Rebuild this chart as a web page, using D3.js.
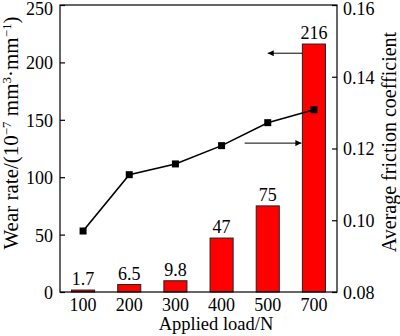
<!DOCTYPE html>
<html>
<head>
<meta charset="utf-8">
<script src="https://cdn.jsdelivr.net/npm/d3@7"></script>
<style>
  html, body { margin: 0; padding: 0; background: #fff; }
  text { font-family: "Liberation Serif", "Times New Roman", serif; fill: #000; }
</style>
</head>
<body>
<svg id="chart" width="400" height="336"></svg>
<script>
// Applied load categories (N)
const loads = ["100", "200", "300", "400", "500", "700"];
// Wear rate, 10^-7 mm^3·mm^-1
const wearRate = [1.7, 6.5, 9.8, 47, 75, 216];
const wearLabels = ["1.7", "6.5", "9.8", "47", "75", "216"];
// Average friction coefficient
const friction = [0.097, 0.1127, 0.1157, 0.1208, 0.1272, 0.1308];
const leftTicks = [0, 50, 100, 150, 200, 250];
const rightTicks = [0.08, 0.10, 0.12, 0.14, 0.16];

const svg = d3.select("#chart");
const m = { left: 60, right: 63, top: 5, bottom: 44 };
const W = 400, H = 336;
const x0 = m.left, x1 = W - m.right, y0 = H - m.bottom, y1 = m.top;

const x = d3.scaleBand().domain(loads).range([x0, x1]).paddingInner(0.5).paddingOuter(0.25);
const yL = d3.scaleLinear().domain([0, 250]).range([y0, y1]);
const yR = d3.scaleLinear().domain([0.08, 0.16]).range([y0, y1]);

const tickFs = 18, valFs = 18;

// bars
svg.append("g").selectAll("rect").data(wearRate).join("rect")
  .attr("x", (d, i) => x(loads[i]))
  .attr("y", d => yL(d))
  .attr("width", x.bandwidth())
  .attr("height", d => y0 - yL(d))
  .attr("fill", "#ff0000")
  .attr("stroke", "#222")
  .attr("stroke-width", 1);

// bar value labels
svg.append("g").selectAll("text").data(wearRate).join("text")
  .attr("x", (d, i) => x(loads[i]) + x.bandwidth() / 2)
  .attr("y", d => yL(d) - 5)
  .attr("text-anchor", "middle")
  .attr("font-size", valFs)
  .text((d, i) => wearLabels[i]);

// friction line
const cx = l => x(l) + x.bandwidth() / 2;
svg.append("path")
  .datum(friction)
  .attr("fill", "none")
  .attr("stroke", "#000")
  .attr("stroke-width", 1.6)
  .attr("d", d3.line().x((d, i) => cx(loads[i])).y(d => yR(d)));
svg.append("g").selectAll("rect").data(friction).join("rect")
  .attr("x", (d, i) => cx(loads[i]) - 3.5)
  .attr("y", d => yR(d) - 3.5)
  .attr("width", 7).attr("height", 7)
  .attr("fill", "#000");

// frame
svg.append("rect")
  .attr("x", x0).attr("y", y1)
  .attr("width", x1 - x0).attr("height", y0 - y1)
  .attr("fill", "none").attr("stroke", "#000").attr("stroke-width", 1.2);

// axes (inward ticks)
const axL = svg.append("g").attr("transform", `translate(${x0},0)`)
  .call(d3.axisRight(yL).tickValues(leftTicks).tickSize(5).tickFormat(d3.format("d")));
axL.selectAll("text").attr("x", -7).attr("text-anchor", "end");
const axR = svg.append("g").attr("transform", `translate(${x1},0)`)
  .call(d3.axisLeft(yR).tickValues(rightTicks).tickSize(5).tickFormat(d3.format(".2f")));
axR.selectAll("text").attr("x", 6).attr("text-anchor", "start");
const axB = svg.append("g").attr("transform", `translate(0,${y0})`)
  .call(d3.axisBottom(x).tickSize(0).tickPadding(6));
[axL, axR, axB].forEach(a => {
  a.select(".domain").remove();
  a.selectAll("line").attr("stroke", "#000").attr("stroke-width", 1.2);
  a.selectAll("text").attr("font-size", tickFs).attr("font-family", "Liberation Serif, serif").attr("fill", "#000");
});
axL.selectAll("text").attr("dy", "0.36em");
axR.selectAll("text").attr("dy", "0.36em");
// keep the top labels inside the page
axL.selectAll(".tick").filter(d => d === 250).select("text").attr("dy", "0.55em");
axR.selectAll(".tick").filter(d => d === 0.16).select("text").attr("dy", "0.55em");

// arrows pointing to each series' axis
const defs = svg.append("defs");
defs.append("marker").attr("id", "ah").attr("viewBox", "0 0 10 10")
  .attr("refX", 10).attr("refY", 5).attr("markerWidth", 9).attr("markerHeight", 6)
  .attr("markerUnits", "userSpaceOnUse").attr("orient", "auto")
  .append("path").attr("d", "M0,0L10,5L0,10Z").attr("fill", "#000");
const bar700 = x("700");
svg.append("line")
  .attr("x1", bar700).attr("y1", yL(208)).attr("x2", cx("500")).attr("y2", yL(208))
  .attr("stroke", "#000").attr("stroke-width", 1).attr("marker-end", "url(#ah)");
svg.append("line")
  .attr("x1", (cx("400") + cx("500")) / 2).attr("y1", yR(0.1215)).attr("x2", bar700 - 1).attr("y2", yR(0.1215))
  .attr("stroke", "#000").attr("stroke-width", 1).attr("marker-end", "url(#ah)");

// axis titles
const tL = svg.append("text")
  .attr("transform", "translate(18,133) rotate(-90)")
  .attr("text-anchor", "middle").attr("font-size", 21);
tL.append("tspan").text("Wear rate/(10");
tL.append("tspan").attr("font-size", 13).attr("dy", -7).text("−7");
tL.append("tspan").attr("dy", 7).text(" mm");
tL.append("tspan").attr("font-size", 13).attr("dy", -7).text("3");
tL.append("tspan").attr("dy", 7).text("·mm");
tL.append("tspan").attr("font-size", 13).attr("dy", -7).text("−1");
tL.append("tspan").attr("dy", 7).text(")");

svg.append("text")
  .attr("transform", "translate(396,142) rotate(-90)")
  .attr("text-anchor", "middle").attr("font-size", 20)
  .text("Average friction coefficient");

svg.append("text")
  .attr("x", 216).attr("y", 330)
  .attr("text-anchor", "middle").attr("font-size", 18.5)
  .text("Applied load/N");
</script>
</body>
</html>
